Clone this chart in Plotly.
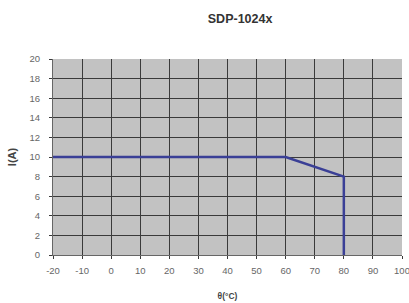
import plotly.graph_objects as go

temp_c = [-20, 60, 80, 80]
current_a = [10, 10, 8, 0]
x_ticks = list(range(-20, 101, 10))
x_labels = [str(v) for v in x_ticks]
y_ticks = list(range(0, 21, 2))

fig = go.Figure()
fig.add_trace(go.Scatter(x=temp_c, y=current_a, mode="lines",
                         line=dict(color="#3a3f96", width=2.5), showlegend=False))

fig.update_layout(
    width=409, height=303,
    margin=dict(l=53, r=7, t=59, b=48),
    paper_bgcolor="white", plot_bgcolor="#c2c2c2",
    font=dict(family="Liberation Sans, Arial", color="#666666", size=9.5),
    title=dict(text="<b>SDP-1024x</b>", x=0.587, xanchor="center", xref="container",
               y=0.94, yanchor="middle", yref="container",
               font=dict(size=12.5, color="#333333")),
)
fig.update_xaxes(range=[-20, 100], tickvals=x_ticks, ticktext=x_labels, showgrid=True,
                 gridcolor="#3a3a3a", gridwidth=1, automargin=False, ticklabeloverflow="allow",
                 ticks="outside", ticklen=3, tickcolor="#3a3a3a", zeroline=False,
                 ticklabelstandoff=4,
                 showline=True, linecolor="#666666",
                 title=dict(text="<b>θ(°C)</b>", font=dict(size=8.5, color="#444444"), standoff=17))
fig.update_yaxes(range=[0, 20], tickvals=y_ticks, showgrid=True, gridcolor="#3a3a3a", gridwidth=1,
                 ticks="outside", ticklen=3, tickcolor="#3a3a3a", zeroline=False,
                 ticklabelstandoff=7,
                 automargin=False, showline=True, linecolor="#666666",
                 title=dict(text="<b>I(A)</b>", font=dict(size=11, color="#444444"), standoff=10))
fig.write_html("out.html", config={"displayModeBar": False},
               post_script="document.body.style.margin='0';document.body.style.overflow='hidden';")
